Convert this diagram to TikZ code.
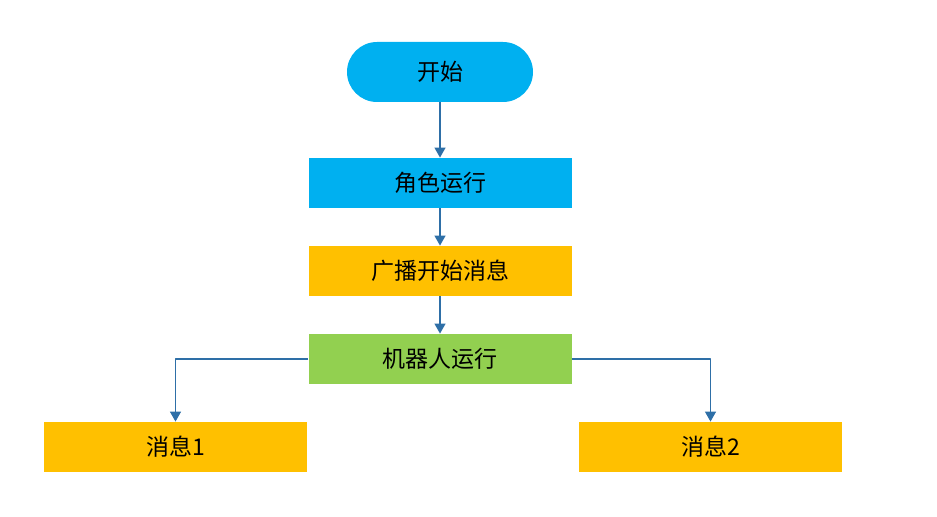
\documentclass[tikz,border=0pt]{standalone}
\usepackage{fontspec}
\setmainfont{Noto Sans CJK SC}
\usetikzlibrary{arrows.meta,positioning}
\definecolor{cyanbox}{HTML}{00B0F0}
\definecolor{orangebox}{HTML}{FFC000}
\definecolor{greenbox}{HTML}{92D050}
\definecolor{linkblue}{HTML}{2E6FA7}
\tikzset{
  every picture/.style={
    font=\fontsize{11.5}{13.5}\selectfont,
    line join=round,
  },
  stepbox/.style={minimum width=131.5pt, minimum height=25pt, inner sep=0pt},
  startbox/.style={minimum width=93pt, minimum height=30pt, rounded corners=15pt,
    inner sep=0pt, fill=cyanbox},
  link/.style={draw=linkblue, line width=0.6pt, -{Triangle[width=5.5pt,length=5pt]}},
}

\begin{document}
\begin{tikzpicture}[x=0.5pt,y=-0.5pt]
\useasboundingbox (0,0) rectangle (937,517);
\node[startbox] (start) at (440,72) {开始};
\node[stepbox, fill=cyanbox] (role) at (440,183) {角色运行};
\node[stepbox, fill=orangebox] (bcast) at (440,271) {广播开始消息};
\node[stepbox, fill=greenbox] (robot) at (440,359) {机器人运行};
\node[stepbox, fill=orangebox] (msg1) at (175.5,447) {消息1};
\node[stepbox, fill=orangebox] (msg2) at (710.5,447) {消息2};
\draw[link] (start) -- (role);
\draw[link] (role) -- (bcast);
\draw[link] (bcast) -- (robot);
\draw[link] (robot.west) -| (msg1.north);
\draw[link] (robot.east) -| (msg2.north);
\end{tikzpicture}
\end{document}
